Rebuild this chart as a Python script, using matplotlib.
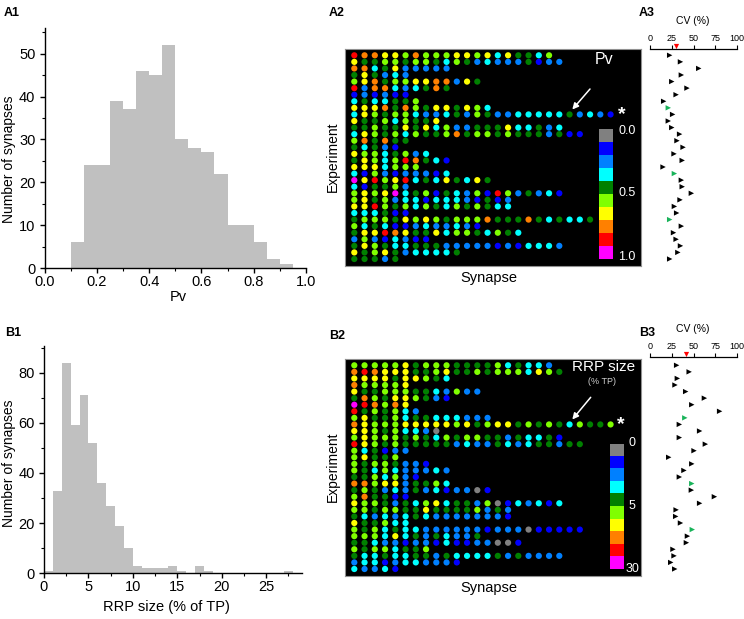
import matplotlib
matplotlib.use("Agg")
import matplotlib.pyplot as plt
import numpy as np
from matplotlib.colors import ListedColormap

plt.rcParams['font.family'] = ['Liberation Sans', 'DejaVu Sans']

W, H = 744, 619

pv_edges = np.arange(0, 1.0, 0.05)
pv_counts = [0, 0, 6, 24, 24, 39, 37, 46, 45, 52, 30, 28, 27, 22, 10, 10, 6, 2, 1, 0]
rrp_edges = np.arange(0, 28, 1)
rrp_counts = [1, 33, 84, 59, 71, 52, 36, 27, 19, 10, 3, 2, 2, 2, 3, 1, 0, 3, 1, 0,
              0, 0, 0, 0, 0, 0, 0, 1]

# colour level of every synapse, one string per experiment
levels = "gbacdlyorm"
level_colors = ['#808080', '#0000ff', '#0080ff', '#00ffff', '#008000',
                '#80ff00', '#ffff00', '#ff8000', '#ff0000', '#ff00ff']

pv_rows = [
    "rooyylolllyylycyddcl", "yddlldlldcldacaaadbaa", "oocdyaaaaa", "dydaca",
    "lyodllyyooayd", "raoocacdod", "bababb", "cdccddl",
    "yyyodoldyydylc", "cyldllcaacdaldaacccccdacab", "yddlclddy", "ddlddydyclaadddyccdac",
    "cyldlclddlodlldldddadbb", "lododd", "dcdab", "yllcdlac",
    "dylclrodcb", "yyyclll", "cblabaaabc", "myrlyrcdcydcyd",
    "cbddla", "lylymcdlbdcalbrladacb", "lydlaccbcccabdba", "yyrldlcldcldldcc",
    "cccdbb", "dllldylyldllloddd" + "odcdccd", "lcdcbbacaacab", "dyyroyddyclldcldc",
    "alabcabb", "dyldccdddaaaaababccca", "ydlydaccccd", "dddad",
]
rrp_rows = [
    "lllllydlllddddlcdcca", "oroyyyddlyddldlllcyld", "yyyydyyldc", "olllly",
    "yddllldd" + "calaa", "doldyyldab", "mroloy", "rdldlca",
    "lyddlcddcccaaa", "oylllyyyyylydlyydldldclddl", "yyldlccag", "lyllldldcldllddadccdb",
    "ryldldddddacaadcacddadd", "lcdbaa", "lyddl", "ldlldaab",
    "ldclcaaaca", "ddlclab", "oolyyaddlc", "dldacadacbaagb",
    "loddbb", "ylldadclycddalgbcacbc", "lldllddyddddlada", "dcacacdcaaaaaaab",
    "yddlcc", "ldlcdccaaaaaabaaagbbbbb", "lllcycdadcaad", "ddcaabaabcbbaaggb",
    "ldllcddl", "dccdccddadccccdadaaaa", "accbaccaaab", "caacb",
]

pv_cv = [22.6, 35, 56, 36, 25, 42.5, 30, 15.7, 21, 26, 21, 25, 34, 31, 38, 27.6,
         37, 15, 28, 36, 37, 47.5, 34.5, 28, 30.6, 22.6, 36, 27, 30, 35, 32, 22.6]
pv_cv_green = [8, 18, 25]
pv_cv_mean = 30
rrp_cv = [30.6, 45, 31.4, 28.7, 41, 62.5, 48, 80, 40, 33.7, 57, 33.7, 63.6, 50.6, 21.5, 48,
          39, 33.7, 48, 47.5, 74, 57, 30, 29.5, 35, 48.6, 43, 41.8, 26.4, 27.6, 23.8, 28.4]
rrp_cv_green = [8, 18, 25]
rrp_cv_mean = 41.4


def px_axes(fig, x0, y0, x1, y1):
    # axes from pixel box, y counted from the top of the image
    return fig.add_axes([x0 / W, 1 - y1 / H, (x1 - x0) / W, (y1 - y0) / H])


def px_text(fig, x, y, s, **kw):
    kw.setdefault('ha', 'center')
    kw.setdefault('va', 'center')
    fig.text(x / W, 1 - y / H, s, **kw)


def draw_hist(ax, edges, counts, width, xlim, ylim, xmajor, xminor, ymajor, yminor):
    ax.bar(edges, counts, width=width, align='edge', color='#c0c0c0', edgecolor='none')
    ax.set_xlim(*xlim)
    ax.set_ylim(*ylim)
    ax.set_xticks(xmajor)
    ax.set_xticks(xminor, minor=True)
    ax.set_yticks(ymajor)
    ax.set_yticks(yminor, minor=True)
    for s in ['top', 'right']:
        ax.spines[s].set_visible(False)
    for s in ['left', 'bottom']:
        ax.spines[s].set_linewidth(1.0)
    ax.tick_params(which='major', length=3.5, width=1.0, labelsize=10.5)
    ax.tick_params(axis='x', which='major', pad=1.5)
    ax.tick_params(axis='y', which='major', pad=3)
    ax.tick_params(which='minor', length=2, width=0.8)


def draw_dots(ax, rows):
    xs, ys, cs = [], [], []
    for r, row in enumerate(rows):
        for c, ch in enumerate(row):
            xs.append(c)
            ys.append(r)
            cs.append(level_colors[levels.index(ch)])
    ax.set_facecolor('black')
    ax.scatter(xs, ys, s=20, c=cs, linewidths=0)
    ax.set_xlim(-0.956, 27.97)
    ax.set_ylim(32.02, -0.96)
    ax.set_xticks([])
    ax.set_yticks([])
    for s in ax.spines.values():
        s.set_color('#909090')
        s.set_linewidth(0.8)


def draw_arrow(ax, start, end):
    ax.annotate('', xy=(end[0], H - end[1]), xytext=(start[0], H - start[1]),
                xycoords='figure pixels', textcoords='figure pixels',
                arrowprops=dict(arrowstyle='-|>', color='white', lw=1.1,
                                shrinkA=0, shrinkB=0, mutation_scale=9))


def draw_cv(ax, cv, green, mean, ytop):
    rows = np.arange(len(cv))
    cols = ['#19b35a' if i in green else 'black' for i in rows]
    ax.scatter(cv, rows, marker='>', s=15, c=cols, linewidths=0)
    ax.scatter([mean], [ytop - 0.45], marker='v', s=14, c='red', linewidths=0, clip_on=False)
    ax.set_xlim(0, 100)
    ax.set_ylim(32.02, ytop)
    ax.set_yticks([])
    ax.set_xticks([0, 25, 50, 75, 100])
    ax.xaxis.tick_top()
    ax.tick_params(axis='x', length=3, width=0.8, labelsize=6.5, pad=1)
    for s in ['left', 'right', 'bottom']:
        ax.spines[s].set_visible(False)
    ax.spines['top'].set_linewidth(0.9)
    ax.patch.set_alpha(0)


def draw_bar(fig, x0, y0, x1, y1):
    ax = px_axes(fig, x0, y0, x1, y1)
    ax.imshow(np.arange(10).reshape(-1, 1), cmap=ListedColormap(level_colors), aspect='auto',
              interpolation='nearest')
    ax.axis('off')


fig = plt.figure(figsize=(W / 100, H / 100), dpi=100, facecolor='white')

# histograms
ax = px_axes(fig, 44.5, 28, 306, 268)
draw_hist(ax, pv_edges, pv_counts, 0.05, (0, 1), (0, 56),
          np.arange(0, 1.01, 0.2), np.arange(0.1, 1, 0.2), np.arange(0, 51, 10), np.arange(5, 56, 10))
ax = px_axes(fig, 44, 346, 301.7, 573.3)
draw_hist(ax, rrp_edges, rrp_counts, 1, (0, 29), (0, 90.6),
          np.arange(0, 26, 5), np.arange(2.5, 28, 5), np.arange(0, 81, 20), np.arange(10, 91, 20))

# dot maps
ax = px_axes(fig, 344.5, 49, 641, 265.7)
draw_dots(ax, pv_rows)
draw_arrow(ax, (590, 89), (572.3, 109.5))
draw_bar(fig, 599.3, 129, 613.3, 259)
ax = px_axes(fig, 344.5, 359, 641, 575.7)
draw_dots(ax, rrp_rows)
draw_arrow(ax, (590.7, 397.3), (572.3, 419.5))
draw_bar(fig, 609.7, 443.7, 623.3, 569)

# CV columns
ax = px_axes(fig, 650, 48.7, 737, 265.7)
draw_cv(ax, pv_cv, pv_cv_green, pv_cv_mean, -1.0)
ax = px_axes(fig, 650, 357, 737, 575.7)
draw_cv(ax, rrp_cv, rrp_cv_green, rrp_cv_mean, -1.26)

# panel letters
for x, y, s in [(12, 13, 'A1'), (13, 333, 'B1'), (337, 13, 'A2'), (337, 336, 'B2'),
                (647, 13, 'A3'), (647, 333, 'B3')]:
    px_text(fig, x, y, s, fontsize=9, fontweight='bold')

# axis titles
px_text(fig, 9, 159, 'Number of synapses', fontsize=10, rotation=90)
px_text(fig, 9, 463, 'Number of synapses', fontsize=10, rotation=90)
px_text(fig, 178, 297, 'Pv', fontsize=10.5)
px_text(fig, 166, 607, 'RRP size (% of TP)', fontsize=10.5)
px_text(fig, 333, 157, 'Experiment', fontsize=10, rotation=90)
px_text(fig, 333, 467, 'Experiment', fontsize=10, rotation=90)
px_text(fig, 489, 278, 'Synapse', fontsize=10.5)
px_text(fig, 489, 588, 'Synapse', fontsize=10.5)
px_text(fig, 693, 21, 'CV (%)', fontsize=7.5)
px_text(fig, 693, 329, 'CV (%)', fontsize=7.5)

# text on the black panels
px_text(fig, 604, 59.5, 'Pv', fontsize=11.5, color='white')
px_text(fig, 604, 367, 'RRP size', fontsize=11, color='white')
px_text(fig, 602, 382, '(% TP)', fontsize=6.5, color='#d0d0d0')
px_text(fig, 621.7, 115, '*', fontsize=14, fontweight='bold', color='white')
px_text(fig, 620.7, 425, '*', fontsize=14, fontweight='bold', color='white')
for y, s in [(130.5, '0.0'), (193, '0.5'), (257, '1.0')]:
    px_text(fig, 627, y, s, fontsize=9, color='white')
for y, s in [(443.5, '0'), (506, '5'), (568.5, '30')]:
    px_text(fig, 632, y, s, fontsize=9, color='white')

fig.savefig('out.png', dpi=100)
